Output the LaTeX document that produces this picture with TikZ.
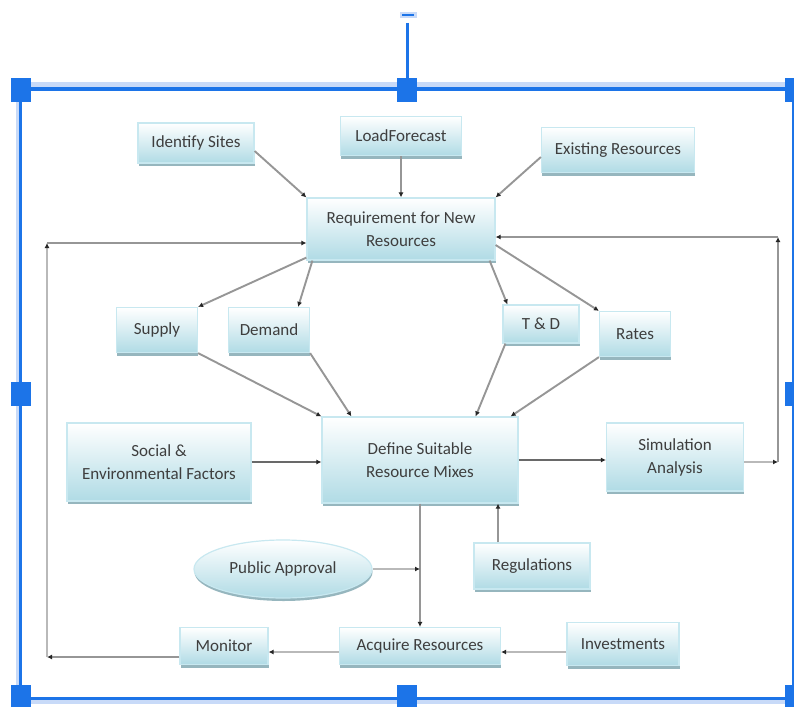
\documentclass[tikz,border=0pt]{standalone}
\usepackage{fontspec}
\setmainfont{Carlito}
\usetikzlibrary{arrows.meta,shapes.geometric,shadows,calc}
\definecolor{boxbot}{RGB}{176,219,229}
\definecolor{boxedge}{RGB}{200,232,240}
\definecolor{boxshadow}{RGB}{150,182,190}
\definecolor{txt}{RGB}{62,62,62}
\definecolor{wire}{RGB}{150,150,150}
\definecolor{wirepale}{RGB}{185,185,185}
\definecolor{wiredark}{RGB}{105,105,105}
\definecolor{selblue}{RGB}{28,116,232}
\definecolor{sellight}{RGB}{200,218,248}
\tikzset{
  box/.style={rectangle, draw=boxedge, line width=1.2pt, top color=white, bottom color=boxbot,
    text=txt, font=\fontsize{17}{23}\selectfont, align=center, inner sep=2pt,
    drop shadow={shadow xshift=0.5pt, shadow yshift=-3pt, fill=boxshadow, opacity=1}},
  ovalbox/.style={box, ellipse},
  wirel/.style={draw=wire, line width=1.9pt, -{Latex[length=5pt,width=5pt,color=black!85]}},
  wired/.style={wirel, draw=wiredark},
  wirep/.style={wirel, draw=wirepale},
  handle/.style={fill=selblue, draw=none}
}
\begin{document}
\begin{tikzpicture}[x=1pt,y=-1pt]
\useasboundingbox (0,0) rectangle (794,706);
\fill[white] (0,0) rectangle (794,706);

% selection frame
\draw[sellight, line width=5pt] (31,84.5) -- (785,84.5);
\draw[selblue, line width=4pt] (31,89.5) -- (785,89.5);
\draw[sellight, line width=3pt] (17.5,102) -- (17.5,687);
\draw[selblue, line width=3pt] (20.5,102) -- (20.5,687);
\draw[selblue, line width=3.5pt] (31,698.3) -- (785,698.3);
\draw[sellight, line width=4pt] (31,702) -- (785,702);
\draw[selblue, line width=2pt] (793,102) -- (793,687);
\draw[selblue, line width=3pt] (407,23) -- (407,78);
\fill[sellight] (400,12) rectangle (417,18);
\fill[selblue] (402,14) rectangle (414,16.5);
\foreach \hx/\hy in {21/90, 407/90, 795/90, 21/394, 795/394, 21/697, 407/697, 795/697}
  \fill[handle] (\hx-10,\hy-12) rectangle (\hx+10,\hy+12);

% nodes
\node[box, minimum width=116pt, minimum height=40pt] (ids) at (196,143) {Identify Sites};
\node[box, minimum width=121pt, minimum height=39pt] (lf) at (401,136) {LoadForecast};
\node[box, minimum width=153pt, minimum height=45pt] (ex) at (618,150) {Existing Resources};
\node[box, minimum width=188pt, minimum height=62pt] (req) at (401,229) {Requirement for New\\Resources};
\node[box, minimum width=81pt, minimum height=45pt] (sup) at (157,330) {Supply};
\node[box, minimum width=81pt, minimum height=45pt] (dem) at (269,330) {Demand};
\node[box, minimum width=76pt, minimum height=38pt] (td) at (541,324) {T \& D};
\node[box, minimum width=71pt, minimum height=45pt] (rat) at (635,334) {Rates};
\node[box, minimum width=184pt, minimum height=78pt] (soc) at (159,462) {Social \&\\Environmental Factors};
\node[box, minimum width=196pt, minimum height=86pt] (def) at (420,460) {Define Suitable\\Resource Mixes};
\node[box, minimum width=137pt, minimum height=68pt] (sim) at (675,457) {Simulation\\Analysis};
\node[ovalbox, minimum width=178pt, minimum height=58pt, inner sep=0pt] (pub) at (283,569) {Public Approval};
\node[box, minimum width=116pt, minimum height=46pt] (reg) at (532,566) {Regulations};
\node[box, minimum width=88pt, minimum height=37pt] (mon) at (224,646) {Monitor};
\node[box, minimum width=161pt, minimum height=37pt] (acq) at (420,646) {Acquire Resources};
\node[box, minimum width=112pt, minimum height=43pt] (inv) at (623,644) {Investments};

\coordinate (r1) at (778,462);
\coordinate (r2) at (778,237);
\coordinate (l1) at (47,657);
\coordinate (l2) at (47,243);
\coordinate (j) at (def.south |- pub.east);

% connectors
\draw[wirel] ([yshift=-8pt]ids.east) -- (req.north west);
\draw[wirel] (lf.south) -- (req.north);
\draw[wirel] ([yshift=-7pt]ex.west) -- (req.north east);
\draw[wirel] ([yshift=3pt]req.south west) -- (sup.north east);
\draw[wirel] ([xshift=6pt]req.south west) -- ([xshift=-12pt]dem.north east);
\draw[wirel] ([xshift=-6pt]req.south east) -- ([xshift=5pt]td.north west);
\draw[wirel] ([yshift=-16pt]req.east) -- (rat.north west);
\draw[wirel] (sup.south east) -- (def.north west);
\draw[wirel] (dem.south east) -- ([xshift=30pt]def.north west);
\draw[wirel] ([xshift=3pt]td.south west) -- ([xshift=-43pt]def.north east);
\draw[wirel] (rat.south west) -- ([xshift=-8pt]def.north east);
\draw[wired] (soc.east) -- (soc.east -| def.west);
\draw[wired] (def.east) -- (def.east -| sim.west);
\draw[wirep] ([yshift=-5pt]sim.east) -- (r1);
\draw[wirel] (r1) -- (r2);
\draw[wirel] (r2) -- (r2 -| req.east);
\draw[wirel] (def.south) -- (acq.north);
\draw[wirep] (pub.east) -- (j);
\draw[wirel] ([xshift=-34pt]reg.north) -- ([xshift=-34pt]reg.north |- def.south);
\draw[wirep] ([yshift=-8pt]inv.west) -- ([yshift=-8pt]inv.west -| acq.east);
\draw[wirep] ([yshift=-6pt]acq.west) -- ([yshift=-6pt]acq.west -| mon.east);
\draw[wirel] ([yshift=-11pt]mon.west) -- (l1);
\draw[wirep] (l1) -- (l2);
\draw[wirel] (l2) -- (l2 -| req.west);
\end{tikzpicture}
\end{document}
